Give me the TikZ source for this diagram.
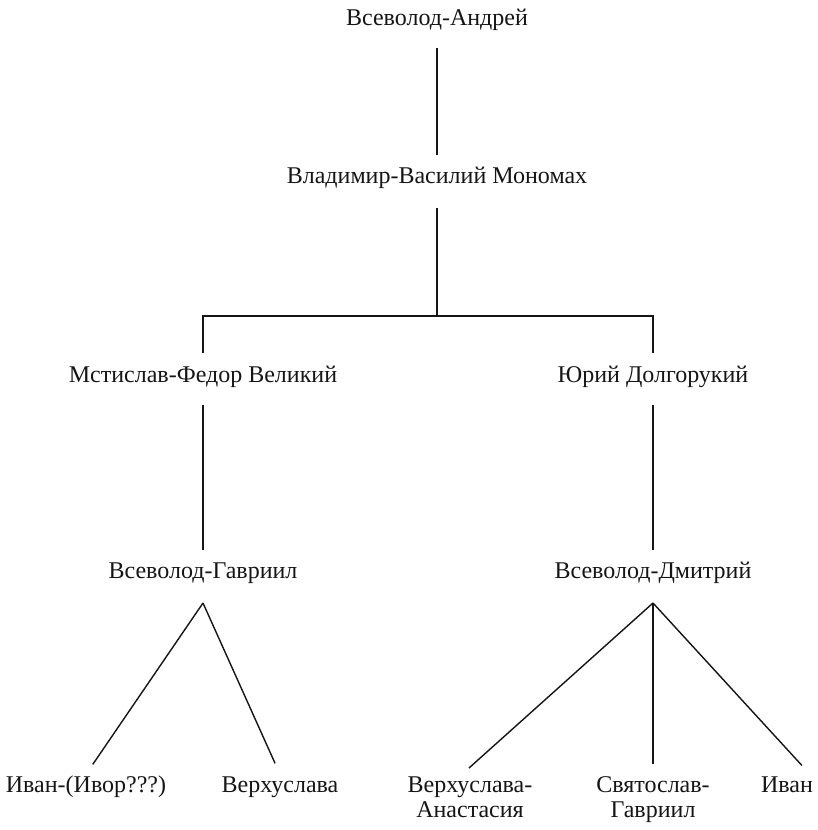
\documentclass[tikz,border=0pt]{standalone}
\usepackage{fontspec}
\setmainfont{Liberation Serif}
\usetikzlibrary{positioning, calc}
\definecolor{inkBlack}{HTML}{151515}
\tikzset{
  person/.style={font=\fontsize{24}{25}\selectfont, inner sep=0pt, text height=16pt, text depth=5pt, anchor=base, text=inkBlack},
  leaf/.style={font=\fontsize{24}{25}\selectfont, inner sep=0pt, align=center, anchor=base, text=inkBlack, execute at begin node=\strut},
  kinline/.style={draw=inkBlack, line width=1.4pt},
  descent/.style={kinline, shorten <=18pt, shorten >=12pt},
  branch/.style={kinline, shorten >=12pt},
}

\begin{document}
\begin{tikzpicture}[x=1pt, y=-1pt]
    \useasboundingbox (0,0) rectangle (817,830);
    % generations, top to bottom
    \node[person] (andrej) at (437,25) {Всеволод-Андрей};
    \node[person] (monomakh) at (437,183) {Владимир-Василий Мономах};
    \node[person] (mstislav) at (203,382) {Мстислав-Федор Великий};
    \node[person] (jurij) at (653,382) {Юрий Долгорукий};
    \node[person] (vsgavriil) at (203,578) {Всеволод-Гавриил};
    \node[person] (vsdmitrij) at (653,578) {Всеволод-Дмитрий};
    % base of a two-line leaf is its second line
    \node[leaf] (ivanivor) at (86,792) {Иван-(Ивор???)};
    \node[leaf] (verkh) at (280,792) {Верхуслава};
    \node[leaf] (verkhanast) at (470,817) {Верхуслава-\\Анастасия};
    \node[leaf] (svjatoslav) at (653,817) {Святослав-\\Гавриил};
    \node[leaf] (ivan) at (787,792) {Иван};
    \coordinate (bar) at (437,316);
    \coordinate (gfork) at (203,603);
    \coordinate (dfork) at (653,603);

    \draw[descent] (andrej.south) -- (monomakh.north);
    \draw[kinline, shorten <=20pt] (monomakh.south) -- (bar);
    \draw[kinline, shorten >=13pt] (bar) -| (mstislav.north);
    \draw[kinline, shorten >=13pt] (bar) -| (jurij.north);
    \draw[descent] (mstislav.south) -- (vsgavriil.north);
    \draw[descent] (jurij.south) -- (vsdmitrij.north);
    % children of the two Vsevolods
    \draw[branch] (gfork) -- (ivanivor.north);
    \draw[branch] (gfork) -- (verkh.north);
    \draw[branch] (dfork) -- ([xshift=-10pt]verkhanast.north);
    \draw[branch] (dfork) -- (svjatoslav.north);
    \draw[branch] (dfork) -- ([xshift=23pt]ivan.north);
\end{tikzpicture}
\end{document}
